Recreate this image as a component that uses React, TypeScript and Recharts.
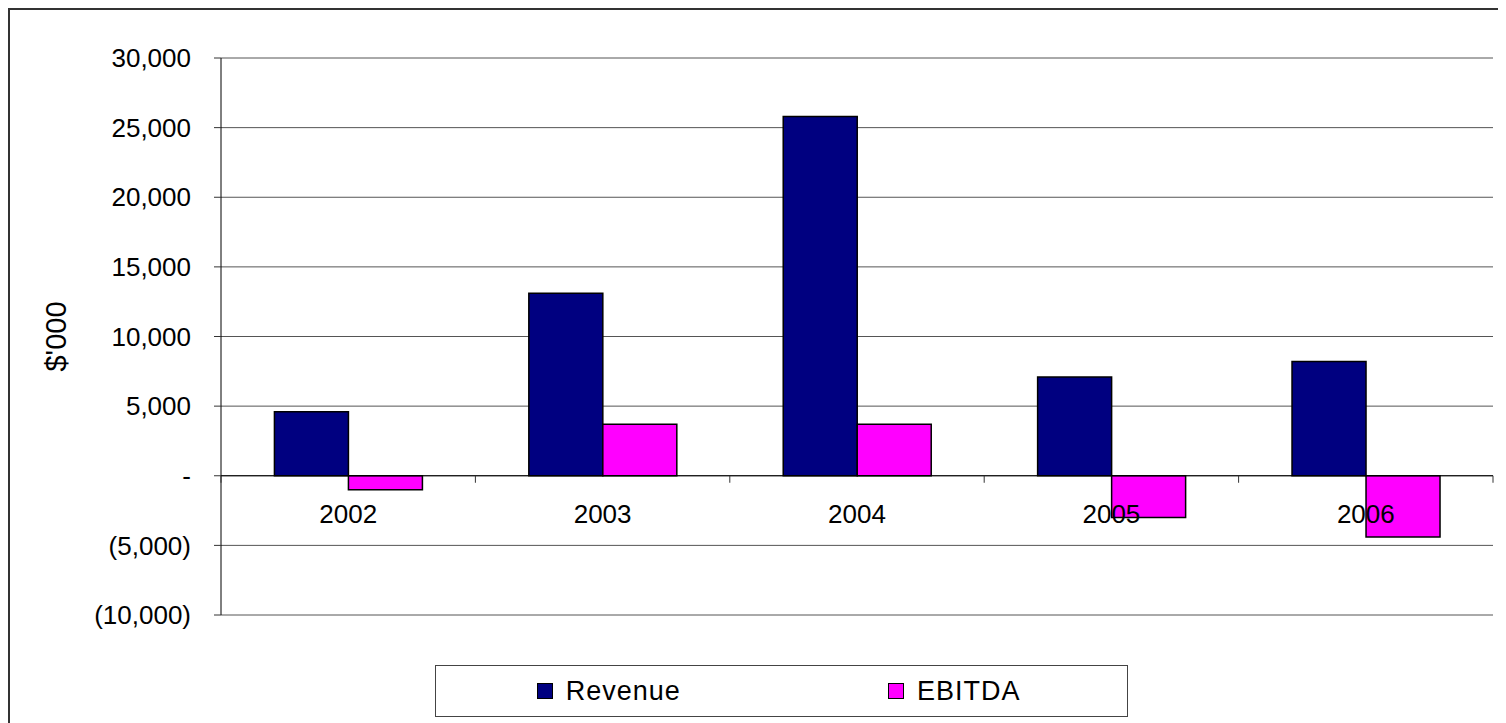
import React from "react";
import {
  BarChart,
  Bar,
  XAxis,
  YAxis,
  CartesianGrid,
  ReferenceLine,
  Legend,
} from "recharts";

/* ── data ── */

const CATEGORIES = ["2002", "2003", "2004", "2005", "2006"];
const REVENUE = [4600, 13100, 25800, 7100, 8200];
const EBITDA = [-1000, 3700, 3700, -3000, -4400];
const Y_TICKS = [-10000, -5000, 0, 5000, 10000, 15000, 20000, 25000, 30000];
const Y_MIN = -10000;
const Y_MAX = 30000;

const SERIES = [
  { key: "revenue", name: "Revenue", color: "#000080" },
  { key: "ebitda", name: "EBITDA", color: "#FF00FF" },
];

const data = CATEGORIES.map((year, i) => ({
  year,
  revenue: REVENUE[i],
  ebitda: EBITDA[i],
}));

/* ── layout ── */

const FONT = '"Liberation Sans", Arial, sans-serif';
const CHART_W = 1496;
const CHART_H = 713;
const Y_AXIS_W = 211;
const X_AXIS_H = 30;
const MARGIN = { top: 48, right: 13, bottom: 78, left: 0 };
const PLOT_W = CHART_W - MARGIN.left - MARGIN.right - Y_AXIS_W;
const PLOT_H = CHART_H - MARGIN.top - MARGIN.bottom - X_AXIS_H;
const ZERO_Y = MARGIN.top + (PLOT_H * Y_MAX) / (Y_MAX - Y_MIN);
const BAND = PLOT_W / CATEGORIES.length;

function fmtY(v: number) {
  if (v === 0) return "-";
  const s = Math.abs(v).toLocaleString("en-US");
  return v < 0 ? `(${s})` : s;
}

// category labels sit just under the zero line, like Excel does
function XTick({ x, payload, index }: any) {
  const last = index === CATEGORIES.length - 1;
  return (
    <g>
      <line x1={x - BAND / 2} x2={x - BAND / 2} y1={ZERO_Y} y2={ZERO_Y + 7} stroke="#333" />
      {last && (
        <line x1={x + BAND / 2} x2={x + BAND / 2} y1={ZERO_Y} y2={ZERO_Y + 7} stroke="#333" />
      )}
      <text x={x} y={ZERO_Y + 47} textAnchor="middle" fontSize={26} fontFamily={FONT} fill="#000">
        {payload.value}
      </text>
    </g>
  );
}

function YLabel({ viewBox }: any) {
  const cy = viewBox.y + viewBox.height / 2;
  const x = 56;
  return (
    <text
      x={x}
      y={cy}
      transform={`rotate(-90, ${x}, ${cy})`}
      textAnchor="middle"
      fontSize={29}
      fontFamily={FONT}
      fill="#000"
    >
      $'000
    </text>
  );
}

function LegendBox() {
  return (
    <div
      style={{
        width: "100%",
        height: "100%",
        boxSizing: "border-box",
        border: "1px solid #444",
        background: "#fff",
        display: "flex",
        fontFamily: FONT,
        fontSize: 27,
        color: "#000",
      }}
    >
      {SERIES.map((s) => (
        <div
          key={s.key}
          style={{ flex: 1, display: "flex", alignItems: "center", justifyContent: "center" }}
        >
          <span
            style={{
              width: 16,
              height: 16,
              boxSizing: "border-box",
              border: "1px solid #000",
              background: s.color,
              marginRight: 13,
            }}
          />
          <span style={{ letterSpacing: 1 }}>{s.name}</span>
        </div>
      ))}
    </div>
  );
}

export default function App() {
  return (
    <div
      style={{
        width: 1498,
        height: 715,
        boxSizing: "border-box",
        borderLeft: "2px solid #333",
        borderTop: "2px solid #333",
        background: "#fff",
        fontFamily: FONT,
      }}
    >
      <style>{`html, body { overflow: hidden; }`}</style>
      <BarChart
        width={CHART_W}
        height={CHART_H}
        data={data}
        margin={MARGIN}
        barCategoryGap="21%"
        barGap={0}
      >
        <CartesianGrid vertical={false} stroke="#555" />
        <YAxis
          width={Y_AXIS_W}
          domain={[Y_MIN, Y_MAX]}
          ticks={Y_TICKS}
          interval={0}
          tickFormatter={fmtY}
          tickSize={7}
          tickMargin={23}
          axisLine={{ stroke: "#000" }}
          tickLine={{ stroke: "#333" }}
          tick={{ fill: "#000", fontSize: 26, fontFamily: FONT }}
          label={{ content: <YLabel /> }}
        />
        {SERIES.map((s) => (
          <Bar
            key={s.key}
            dataKey={s.key}
            name={s.name}
            fill={s.color}
            stroke="#000"
            strokeWidth={1.5}
            isAnimationActive={false}
          />
        ))}
        <ReferenceLine y={0} stroke="#000" />
        <XAxis
          dataKey="year"
          height={X_AXIS_H}
          axisLine={false}
          tickLine={false}
          interval={0}
          tick={<XTick />}
        />
        <Legend
          layout="vertical"
          align="center"
          verticalAlign="middle"
          wrapperStyle={{ left: 425, top: 655, width: 693, height: 52 }}
          content={<LegendBox />}
        />
      </BarChart>
    </div>
  );
}
